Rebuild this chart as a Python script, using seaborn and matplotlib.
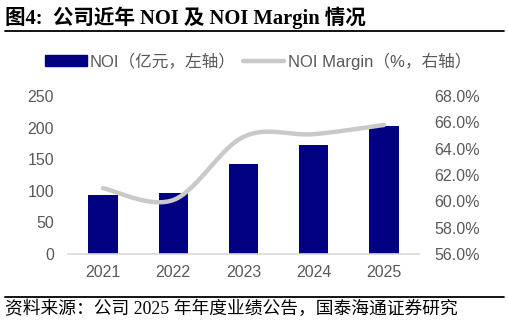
import numpy as np
import pandas as pd
import matplotlib
matplotlib.use("Agg")
import matplotlib.pyplot as plt
import seaborn as sns
from matplotlib.patches import Patch
from matplotlib.lines import Line2D

years = ["2021", "2022", "2023", "2024", "2025"]
noi = [93, 96, 143, 172, 202]
margin = [61.0, 60.1, 64.9, 65.1, 65.8]
left_ticks = [0, 50, 100, 150, 200, 250]
right_ticks = [56, 58, 60, 62, 64, 66, 68]

title = "图4:  公司近年 NOI 及 NOI Margin 情况"
source = "资料来源：公司 2025 年年度业绩公告，国泰海通证券研究"
leg1 = "NOI（亿元，左轴）"
leg2 = "NOI Margin（%，右轴）"

sns.set_theme(style="white")
plt.rcParams['font.family'] = ['Liberation Sans', 'Noto Sans CJK SC', 'DejaVu Sans']

NAVY = "#000080"
LGRAY = "#c9c9c9"
TXT = "#595959"

fig = plt.figure(figsize=(5.09, 3.23), dpi=100)
ax = fig.add_axes([68/509, (323-254)/323, (419-68)/509, (254-96)/323])

df = pd.DataFrame({"year": years, "noi": noi})
sns.barplot(data=df, x="year", y="noi", color=NAVY, width=0.42, ax=ax,
            saturation=1, edgecolor=NAVY, linewidth=0)
ax.set_xlim(-0.5, 4.5)
ax.set_ylim(0, 250)
ax.set_yticks(left_ticks)
ax.set_xlabel("")
ax.set_ylabel("")
for s in ["top", "right", "left"]:
    ax.spines[s].set_visible(False)
ax.spines["bottom"].set_color("#d9d9d9")
ax.spines["bottom"].set_linewidth(1.2)
ax.tick_params(axis="x", length=0, pad=8, labelsize=11.5, labelcolor=TXT)
ax.tick_params(axis="y", length=0, pad=10, labelsize=11.5, labelcolor=TXT)

# smoothed line (Catmull-Rom style, like Excel smoothing) through data points
ax2 = ax.twinx()
xs = np.arange(len(margin), dtype=float)
ys = np.array(margin)
px = np.concatenate([[xs[0]], xs, [xs[-1]]])
py = np.concatenate([[ys[0]], ys, [ys[-1]]])
cx, cy = [], []
for i in range(1, len(px) - 2):
    t = np.linspace(0, 1, 40)
    m0x = (px[i+1] - px[i-1]) / 2; m1x = (px[i+2] - px[i]) / 2
    m0y = (py[i+1] - py[i-1]) / 2; m1y = (py[i+2] - py[i]) / 2
    h00 = 2*t**3 - 3*t**2 + 1; h10 = t**3 - 2*t**2 + t
    h01 = -2*t**3 + 3*t**2; h11 = t**3 - t**2
    cx.extend(h00*px[i] + h10*m0x + h01*px[i+1] + h11*m1x)
    cy.extend(h00*py[i] + h10*m0y + h01*py[i+1] + h11*m1y)
ldf = pd.DataFrame({"x": cx, "y": cy})
sns.lineplot(data=ldf, x="x", y="y", ax=ax2, color=LGRAY, linewidth=3.2,
             sort=False, solid_capstyle="round", estimator=None)
ax2.set_xlim(-0.5, 4.5)
ax2.set_ylim(56, 68)
ax2.set_yticks(right_ticks)
ax2.set_yticklabels([f"{v:.1f}%" for v in right_ticks])
ax2.set_xlabel("")
ax2.set_ylabel("")
for s in ["top", "right", "left", "bottom"]:
    ax2.spines[s].set_visible(False)
ax2.tick_params(axis="y", length=0, pad=11, labelsize=11.5, labelcolor=TXT)

handles = [Patch(facecolor=NAVY, edgecolor=NAVY),
           Line2D([0], [0], color=LGRAY, linewidth=3.2)]
fig.legend(handles, [leg1, leg2], loc="center", bbox_to_anchor=(0.507, (323-61)/323),
           ncol=2, frameon=False, fontsize=12, handlelength=2.5,
           handleheight=0.65, columnspacing=0.4, handletextpad=0.2,
           labelcolor=TXT)

fig.text(5/509, (323-18)/323, title, fontsize=14.8, fontweight="bold",
         family=['Liberation Serif', 'Noto Sans CJK SC'], va="center", ha="left",
         color="black")
fig.add_artist(Line2D([5/509, 504/509], [(323-31)/323]*2, color="black", linewidth=1.3))
fig.add_artist(Line2D([5/509, 504/509], [(323-297)/323]*2, color="black", linewidth=1.3))
fig.text(5/509, (323-309)/323, source, fontsize=12.8,
         family=['Liberation Serif', 'Noto Sans CJK SC'], va="center", ha="left",
         color="black")

fig.savefig("out.png", dpi=100)
